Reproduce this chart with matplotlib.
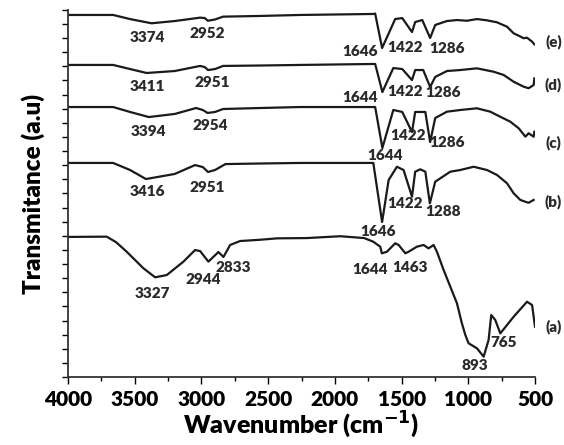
import matplotlib
matplotlib.use("Agg")
import matplotlib.pyplot as plt
from matplotlib.ticker import MultipleLocator

plt.rcParams['font.family'] = ['Lato', 'DejaVu Sans']
plt.rcParams['font.weight'] = 'bold'

# spectra: wavenumber (cm-1) and transmittance (a.u., stacked)
wn_a = [4000, 3710, 3640, 3560, 3435, 3347, 3260, 3135, 3048, 3010, 2948, 2873, 2835,
        2785, 2710, 2560, 2432, 2208, 1960, 1780, 1712, 1660, 1648, 1610, 1548, 1522,
        1472, 1448, 1385, 1335, 1298, 1260, 1235, 1185, 1135, 1085, 1048, 1022, 998,
        935, 885, 848, 828, 798, 760, 660, 560, 522, 500]
t_a = [9.92, 9.94, 9.55, 8.87, 7.70, 7.06, 7.22, 8.17, 8.99, 8.92, 8.17, 8.85, 8.50,
       9.35, 9.63, 9.72, 9.82, 9.84, 9.97, 9.84, 9.58, 9.23, 8.76, 8.87, 9.47, 9.35,
       8.76, 8.87, 9.23, 9.35, 9.11, 9.35, 8.87, 7.58, 6.40, 5.22, 3.80, 2.97, 2.39,
       2.03, 1.44, 2.62, 4.39, 4.04, 3.09, 4.27, 5.33, 5.10, 3.56]

wn_b = [4000, 3662, 3535, 3416, 3200, 3048, 2990, 2951, 2898, 2820, 2560, 2260, 1712,
        1646, 1597, 1535, 1485, 1422, 1398, 1360, 1322, 1288, 1248, 1210, 1135, 1060,
        960, 860, 785, 710, 660, 610, 572, 548, 510]
t_b = [15.16, 15.16, 14.66, 14.02, 14.38, 15.01, 14.87, 14.52, 14.66, 15.08, 15.12, 15.16,
       15.16, 10.98, 13.95, 14.89, 14.66, 12.77, 14.54, 14.71, 14.54, 12.30, 13.83, 14.07,
       14.54, 14.66, 14.89, 14.66, 14.31, 13.72, 13.01, 12.54, 12.41, 12.34, 12.54]

wn_c = [4000, 3662, 3535, 3394, 3200, 3040, 2990, 2954, 2898, 2838, 2560, 2260, 1698,
        1644, 1562, 1495, 1422, 1398, 1322, 1286, 1248, 1160, 1060, 935, 835, 760, 685,
        622, 572, 548, 510, 505]
t_c = [19.12, 19.12, 18.77, 18.41, 18.63, 19.05, 18.91, 18.70, 18.77, 18.98, 19.05, 19.12,
       19.12, 16.22, 18.91, 18.77, 17.35, 18.77, 18.77, 16.64, 18.34, 18.79, 18.91, 19.03,
       18.79, 18.43, 18.08, 17.61, 17.02, 17.26, 17.02, 17.37]

wn_d = [4000, 3662, 3535, 3411, 3200, 3010, 2975, 2951, 2898, 2838, 2560, 2260, 1698,
        1644, 1562, 1495, 1422, 1398, 1338, 1286, 1248, 1160, 1060, 935, 810, 735, 660,
        585, 548, 510, 505]
t_d = [22.10, 22.10, 21.81, 21.53, 21.67, 22.03, 21.95, 21.74, 21.81, 22.03, 22.06, 22.10,
       22.17, 20.18, 21.88, 21.81, 21.03, 21.74, 21.74, 20.54, 21.25, 21.67, 21.74, 21.86,
       21.62, 21.39, 20.91, 20.56, 20.45, 20.68, 21.15]

wn_e = [4000, 3662, 3535, 3374, 3200, 3010, 2975, 2952, 2898, 2838, 2560, 2260, 1712,
        1698, 1646, 1548, 1495, 1422, 1398, 1345, 1286, 1248, 1160, 1085, 1010, 935, 860,
        785, 710, 660, 622, 585, 560, 522, 505]
t_e = [25.64, 25.64, 25.35, 25.05, 25.21, 25.45, 25.42, 25.23, 25.32, 25.52, 25.57, 25.64,
       25.71, 25.74, 23.30, 25.35, 25.42, 24.43, 25.14, 25.28, 24.01, 24.93, 25.21, 25.28,
       25.23, 25.35, 25.26, 25.12, 24.81, 24.34, 24.17, 23.99, 24.03, 23.75, 23.56]

# peak labels: text, wavenumber, transmittance
peak_labels = [
    ("3374", 3407, 24.01), ("2952", 2957, 24.36), ("1646", 1810, 23.02),
    ("1422", 1472, 23.37), ("1286", 1157, 23.30),
    ("3411", 3407, 20.54), ("2951", 2920, 20.89), ("1644", 1810, 19.76),
    ("1422", 1472, 20.25), ("1286", 1187, 20.18),
    ("3394", 3400, 17.42), ("2954", 2935, 17.78), ("1644", 1622, 15.72),
    ("1422", 1450, 17.07), ("1286", 1157, 16.64),
    ("3416", 3407, 13.17), ("2951", 2957, 13.39), ("1646", 1675, 10.27),
    ("1422", 1472, 12.32), ("1288", 1187, 11.69),
    ("3327", 3370, 5.88), ("2944", 2988, 6.94), ("2833", 2762, 7.79),
    ("1644", 1735, 7.58), ("1463", 1435, 7.79), ("893", 948, 0.85), ("765", 738, 2.41),
]
curve_names = ["(a)", "(b)", "(c)", "(d)", "(e)"]
name_y = [3.54, 12.39, 16.57, 20.68, 23.73]

fig = plt.figure(figsize=(5.64, 4.45), dpi=100)
ax = fig.add_axes([0.1206, 0.1528, 0.828, 0.825])

for wn, t in [(wn_a, t_a), (wn_b, t_b), (wn_c, t_c), (wn_d, t_d), (wn_e, t_e)]:
    ax.plot(wn, t, color='#1a1a1a', lw=1.6, solid_joinstyle='round')

for txt, x, y in peak_labels:
    ax.text(x, y, txt, ha='center', va='center', fontsize=11, fontweight='heavy', color='#2a2a2a')
for name, y in zip(curve_names, name_y):
    ax.text(362, y, name, ha='center', va='center', fontsize=11, fontweight='heavy',
            color='#2a2a2a', clip_on=False)

ax.set_xlim(4000, 500)
ax.set_ylim(0, 26)
ax.xaxis.set_major_locator(MultipleLocator(500))
ax.xaxis.set_minor_locator(MultipleLocator(250))
ax.yaxis.set_major_locator(MultipleLocator(1))
ax.set_yticklabels([])
ax.tick_params(axis='x', which='major', length=5, width=1, labelsize=15, pad=4)
ax.tick_params(axis='x', which='minor', length=3, width=1)
ax.tick_params(axis='y', length=4, width=1)
for lab in ax.get_xticklabels():
    lab.set_fontweight('heavy')

for side in ['top', 'right']:
    ax.spines[side].set_visible(False)
for side in ['left', 'bottom']:
    ax.spines[side].set_linewidth(1.3)
    ax.spines[side].set_color('#333333')

ax.set_xlabel('Wavenumber (cm$^{\\mathbf{-1}}$)', fontsize=18, fontweight='heavy', labelpad=1)
ax.set_ylabel('Transmitance (a.u)', fontsize=17.5, fontweight='heavy', labelpad=9)

fig.savefig('out.png', dpi=100)
